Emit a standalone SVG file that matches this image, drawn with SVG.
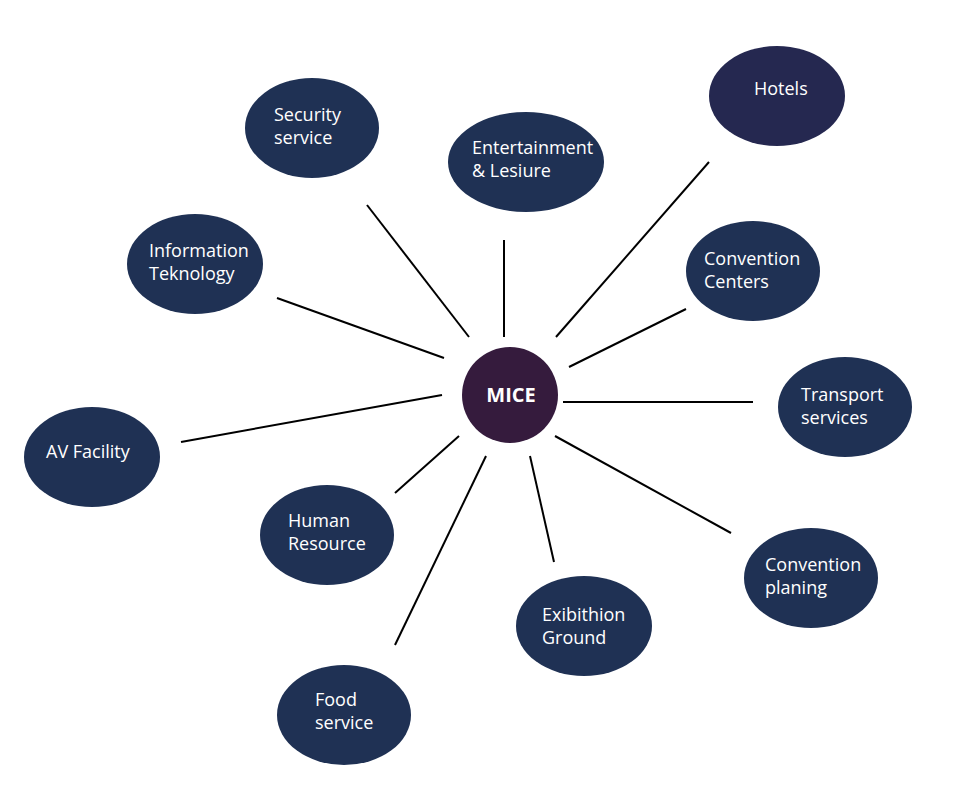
<svg xmlns="http://www.w3.org/2000/svg" width="972" height="798" viewBox="0 0 972 798">
<style>
.n{fill:#1f3154}
.h{fill:#252850}
.m{fill:#351b3d}
.t{font-family:"Open Sans","Noto Sans",sans-serif;font-size:18px;fill:#ffffff}
.mt{font-family:"Open Sans","Noto Sans",sans-serif;font-size:20px;font-weight:bold;fill:#ffffff}
.c line{stroke:#000000;stroke-width:2}
</style>
<rect width="972" height="798" fill="#ffffff"/>
<g id="connectors" class="c">
<line x1="367" y1="205" x2="469" y2="337"/>
<line x1="504" y1="240" x2="504" y2="337"/>
<line x1="709" y1="162" x2="556" y2="337"/>
<line x1="277" y1="298" x2="444" y2="358"/>
<line x1="686" y1="309" x2="569" y2="367"/>
<line x1="563" y1="402" x2="753" y2="402"/>
<line x1="181" y1="442" x2="442" y2="395"/>
<line x1="395" y1="493" x2="459" y2="436"/>
<line x1="395" y1="645" x2="486" y2="456"/>
<line x1="530" y1="456" x2="554" y2="562"/>
<line x1="555" y1="436" x2="731" y2="533"/>
</g>
<g id="mice"><circle class="m" cx="510" cy="395" r="48"/><text class="mt" x="511" y="402" text-anchor="middle">MICE</text></g>
<g id="security"><ellipse class="n" cx="312" cy="128" rx="67" ry="50"/><text class="t" x="274" y="121">Security</text><text class="t" x="274" y="144">service</text></g>
<g id="entertainment"><ellipse class="n" cx="526" cy="162" rx="78" ry="50"/><text class="t" x="472" y="154">Entertainment</text><text class="t" x="472" y="177">&amp; Lesiure</text></g>
<g id="hotels"><ellipse class="h" cx="777" cy="96" rx="68" ry="50"/><text class="t" x="754" y="95">Hotels</text></g>
<g id="it"><ellipse class="n" cx="195" cy="264" rx="68" ry="50"/><text class="t" x="149" y="257">Information</text><text class="t" x="149" y="280">Teknology</text></g>
<g id="convention-centers"><ellipse class="n" cx="753" cy="271" rx="67" ry="50"/><text class="t" x="704" y="265">Convention</text><text class="t" x="704" y="288">Centers</text></g>
<g id="transport"><ellipse class="n" cx="845" cy="407" rx="67" ry="50"/><text class="t" x="801" y="401">Transport</text><text class="t" x="801" y="424">services</text></g>
<g id="av"><ellipse class="n" cx="92" cy="457" rx="68" ry="50"/><text class="t" x="46" y="458">AV Facility</text></g>
<g id="human"><ellipse class="n" cx="327" cy="535" rx="67" ry="50"/><text class="t" x="288" y="527">Human</text><text class="t" x="288" y="550">Resource</text></g>
<g id="convention-planing"><ellipse class="n" cx="811" cy="578" rx="67" ry="50"/><text class="t" x="765" y="571">Convention</text><text class="t" x="765" y="594">planing</text></g>
<g id="exhibition"><ellipse class="n" cx="584" cy="626" rx="68" ry="50"/><text class="t" x="542" y="621">Exibithion</text><text class="t" x="542" y="644">Ground</text></g>
<g id="food"><ellipse class="n" cx="344" cy="715" rx="67" ry="50"/><text class="t" x="315" y="706">Food</text><text class="t" x="315" y="729">service</text></g>
</svg>
